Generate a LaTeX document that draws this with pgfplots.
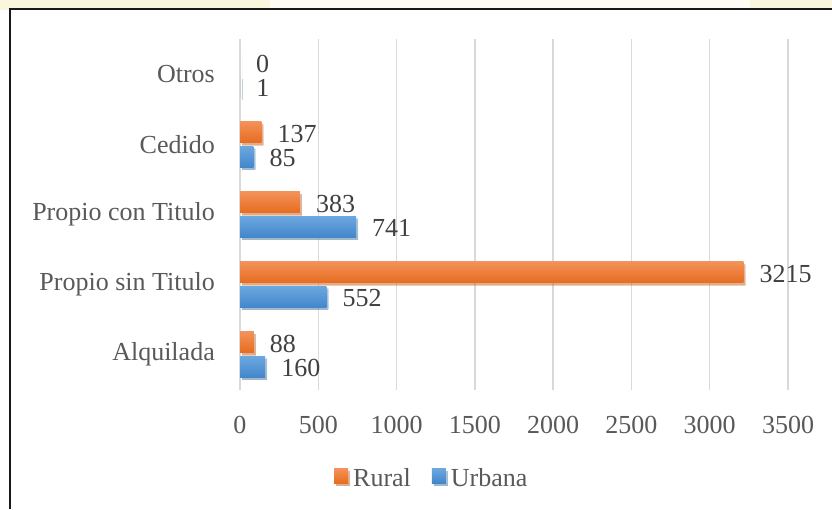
\documentclass[border=0pt]{standalone}
\usepackage{fontspec}
\setmainfont{Liberation Serif}
\usepackage{pgfplots}
\pgfplotsset{compat=1.18}
\usetikzlibrary{shadows}
\definecolor{oTop}{HTML}{F4925A}
\definecolor{oBot}{HTML}{E66C1E}
\definecolor{bTop}{HTML}{6CA8E0}
\definecolor{bBot}{HTML}{4286CA}
\definecolor{txt}{HTML}{595959}
\definecolor{val}{HTML}{404040}
\definecolor{cream}{HTML}{FCF5DE}
\pgfplotsset{
  rural/.style={draw=none, top color=oTop, bottom color=oBot, bar shift=0.175,
    drop shadow={shadow xshift=2pt, shadow yshift=-2.5pt, opacity=0.35}},
  urban/.style={draw=none, top color=bTop, bottom color=bBot, bar shift=-0.175,
    drop shadow={shadow xshift=2pt, shadow yshift=-2.5pt, opacity=0.35}},
}
\begin{document}
\begin{tikzpicture}[x=1pt,y=1pt]
\useasboundingbox (0,0) rectangle (832,509);
\fill[white] (0,0) rectangle (832,509);
\fill[cream] (0,499) rectangle (832,509);
\fill[white!60!cream] (270,499) rectangle (750,509);
\draw[line width=2pt, black!90] (9.5,0) -- (9.5,499.5) -- (832,499.5);
\begin{axis}[
  at={(240pt,119.5pt)}, anchor=south west, scale only axis,
  width=548pt, height=350pt,
  xbar, xmin=0, xmax=3500, ymin=-0.5, ymax=4.5,
  bar width=0.307,
  ytick={0,1,2,3,4},
  yticklabels={Alquilada, Propio sin Titulo, Propio con Titulo, Cedido, Otros},
  xtick={0,500,...,3500},
  xmajorgrids, grid style={draw=black!15, line width=1.5pt},
  axis line style={draw=none}, major tick length=0pt,
  font=\fontsize{26}{31}\selectfont,
  /pgf/number format/assume math mode=true,
  /pgf/number format/1000 sep={},
  tick label style={text=txt, inner sep=0pt},
  yticklabel style={anchor=east, xshift=-25pt},
  xticklabel style={anchor=north, yshift=-27pt},
  nodes near coords, nodes near coords align=horizontal,
  every node near coord/.append style={text=val, inner sep=0pt, anchor=west, xshift=16pt, yshift=-1.5pt},
  legend columns=2,
  legend style={at={(0.1715,-0.2529)}, anchor=west, draw=none, fill=none, inner sep=0pt,
    /tikz/every even column/.append style={column sep=21pt},
    nodes={inner sep=0pt, text=txt}},
  legend image code/.code={\fill[#1] (0pt,-5pt) rectangle (14pt,9.5pt);},
  clip=false,
]
\addplot[rural] coordinates {(88,0)};
\addlegendentry{\kern5pt Rural}
\addplot[urban] coordinates {(160,0)};
\addlegendentry{\kern5pt Urbana}
\addplot[rural, forget plot] coordinates {(3215,1)};
\addplot[urban, forget plot] coordinates {(552,1)};
\addplot[rural, forget plot] coordinates {(383,2)};
\addplot[urban, forget plot] coordinates {(741,2)};
\addplot[rural, forget plot] coordinates {(137,3)};
\addplot[urban, forget plot] coordinates {(85,3)};
\addplot[rural, drop shadow={opacity=0}, forget plot] coordinates {(0,4)};
\addplot[urban, drop shadow={opacity=0}, forget plot] coordinates {(1,4)};
\end{axis}
\end{tikzpicture}
\end{document}
